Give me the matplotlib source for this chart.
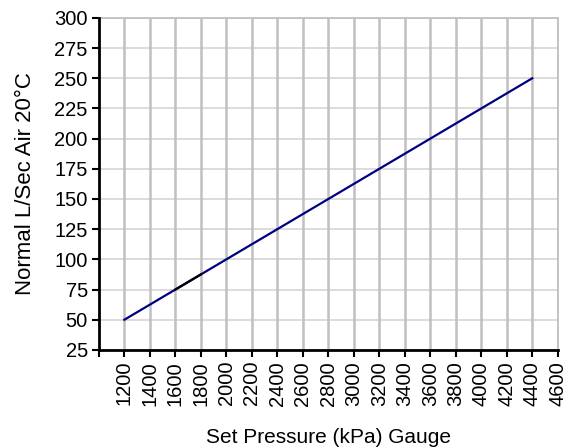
import matplotlib
matplotlib.use("Agg")
import matplotlib.pyplot as plt

pressure = [1200, 1400, 1600, 1800, 2000, 2200, 2400, 2600, 2800, 3000,
            3200, 3400, 3600, 3800, 4000, 4200, 4400]
flow = [50, 62.5, 75, 87.5, 100, 112.5, 125, 137.5, 150, 162.5,
        175, 187.5, 200, 212.5, 225, 237.5, 250]
seg_pressure = [1600, 1800]
seg_flow = [75, 87.5]

x_ticks = list(range(1000, 4601, 200))
x_labels = ["" if v == 1000 else str(v) for v in x_ticks]
y_ticks = list(range(25, 301, 25))

plt.rcParams['font.family'] = ['Liberation Sans', 'DejaVu Sans']
fig = plt.figure(figsize=(5.75, 4.48), dpi=100)
ax = fig.add_axes([0.172, 0.219, 0.798, 0.741])

for v in y_ticks:
    ax.axhline(v, color='#d9d9d9', lw=1.3, zorder=1)
for v in x_ticks[1:]:
    ax.axvline(v, color='#c0c0c0', lw=1.8, zorder=1)

ax.plot(pressure, flow, color='#000080', lw=1.6, zorder=3)
ax.plot(seg_pressure, seg_flow, color='black', lw=1.6, zorder=4)

ax.set_xlim(1000, 4600)
ax.set_ylim(25, 300)
ax.set_xticks(x_ticks)
ax.set_xticklabels(x_labels, rotation=90)
ax.set_yticks(y_ticks)

for s in ['top', 'right']:
    ax.spines[s].set_color('#c0c0c0')
    ax.spines[s].set_linewidth(1.3)
for s in ['left', 'bottom']:
    ax.spines[s].set_color('black')
    ax.spines[s].set_linewidth(2)
    ax.spines[s].set_zorder(5)
ax.tick_params(axis='both', direction='out', length=5, width=1.5, colors='black',
               labelsize=14.5, pad=3)
ax.set_xlabel('Set Pressure (kPa) Gauge', fontsize=15, labelpad=16)
ax.set_ylabel('Normal L/Sec Air 20°C', fontsize=16, labelpad=13)

fig.savefig('out.png', dpi=100)
